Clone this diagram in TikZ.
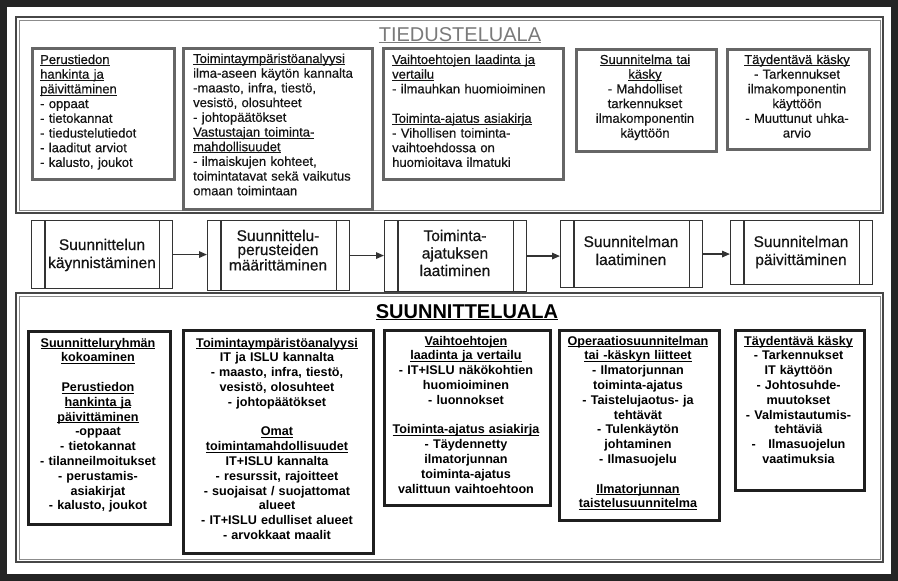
\documentclass[tikz,border=0pt]{standalone}
\usepackage{fontspec}
\setmainfont{Liberation Sans}
\newfontfamily\medfont{Liberation Sans}[FakeBold=0.5]
\usetikzlibrary{arrows.meta}
\newcommand{\ulx}[1]{\underline{\smash{#1}}}
\tikzset{
  outerframe/.style={draw=black!86, line width=7pt},
  frameout/.style={draw=black!72, line width=1.6pt},
  framein/.style={draw=black!45, line width=0.9pt},
  tbox/.style={draw=black!60, line width=2.6pt, inner sep=0pt, anchor=north west},
  bbox/.style={draw=black!88, line width=2.6pt, inner sep=0pt, anchor=north west},
  proc/.style={draw=black!80, line width=1.1pt, inner sep=0pt, anchor=north west},
  procline/.style={draw=black!80, line width=1.1pt},
  arr/.style={draw=black!80, line width=1.5pt, -{Triangle[length=8pt,width=6.5pt]}},
  ttext/.style={font=\medfont\fontsize{13}{14.7}\selectfont, text=black!92, inner sep=0pt},
  btext/.style={font=\bfseries\fontsize{12.6}{14.8}\selectfont, text=black, inner sep=0pt, align=center, anchor=base},
  ptext/.style={text=black!92, inner sep=0pt, align=center, anchor=base, text width=150pt},
  title/.style={font=\fontsize{20}{24}\selectfont, inner sep=0pt, anchor=base}
}
\begin{document}
\begin{tikzpicture}[x=1pt,y=-1pt]
\useasboundingbox (0,0) rectangle (898,581);
\fill[white] (0,0) rectangle (898,581);
\draw[outerframe] (3.5,3) rectangle (894.5,577.5);

% section frames
\draw[frameout] (16,17) rectangle (883,213);
\draw[framein] (19,20) rectangle (880,210);
\draw[frameout] (16,293) rectangle (883,562);
\draw[framein] (19,296) rectangle (880,559);

% titles
\node[title, text=black!52] (t1) at (460,41) {\ulx{TIEDUSTELUALA}};
\node[title, font=\bfseries\fontsize{20}{24}\selectfont] (t2) at (467,318) {\ulx{SUUNNITTELUALA}};

% ---------- top boxes ----------
\node[tbox, minimum width=142pt, minimum height=131pt] (tA) at (31,47) {};
\node[ttext, text width=130pt, align=left, anchor=base west] (tAt) at (40,64)
 {\ulx{Perustiedon}\\ \ulx{hankinta ja}\\ \ulx{päivittäminen}\\ - oppaat\\ - tietokannat\\ - tiedustelutiedot\\ - laaditut arviot\\ - kalusto, joukot};

\node[tbox, minimum width=189pt, minimum height=161pt] (tB) at (182,47) {};
\node[ttext, text width=176pt, align=left, anchor=base west] (tBt) at (193,63)
 {\ulx{Toimintaympäristöanalyysi}\\ ilma-aseen käytön kannalta\\ -maasto, infra, tiestö,\\ vesistö, olosuhteet\\ - johtopäätökset\\ \ulx{Vastustajan toiminta-}\\ \ulx{mahdollisuudet}\\ - ilmaiskujen kohteet,\\ toimintatavat sekä vaikutus\\ omaan toimintaan};

\node[tbox, minimum width=180pt, minimum height=131pt] (tC) at (382,47) {};
\node[ttext, text width=168pt, align=left, anchor=base west] (tCt) at (392,64)
 {\ulx{Vaihtoehtojen laadinta ja}\\ \ulx{vertailu}\\ - ilmauhkan huomioiminen\\ \mbox{}\\ \ulx{Toiminta-ajatus asiakirja}\\ - Vihollisen toiminta-\\ vaihtoehdossa on\\ huomioitava ilmatuki};

\node[tbox, minimum width=140pt, minimum height=102pt] (tD) at (575,48) {};
\node[ttext, text width=136pt, align=center, anchor=base] (tDt) at (645,64)
 {\ulx{Suunnitelma tai}\\ \ulx{käsky}\\ - Mahdolliset\\ tarkennukset\\ ilmakomponentin\\ käyttöön};

\node[tbox, minimum width=142pt, minimum height=100pt] (tE) at (726,48) {};
\node[ttext, text width=138pt, align=center, anchor=base] (tEt) at (797,64)
 {\ulx{Täydentävä käsky}\\ - Tarkennukset\\ ilmakomponentin\\ käyttöön\\ - Muuttunut uhka-\\ arvio};

% ---------- process row ----------
\node[proc, minimum width=141pt, minimum height=68pt] (p1) at (31,220) {};
\node[proc, minimum width=142pt, minimum height=70pt] (p2) at (207,220) {};
\node[proc, minimum width=142pt, minimum height=71pt] (p3) at (384,220) {};
\node[proc, minimum width=142pt, minimum height=67pt] (p4) at (560,220) {};
\node[proc, minimum width=142pt, minimum height=64pt] (p5) at (730,220) {};
\foreach \p in {p1,p2,p3,p4,p5}{
  \draw[procline] ([xshift=14pt]\p.north west) -- ([xshift=14pt]\p.south west);
  \draw[procline] ([xshift=-14pt]\p.north east) -- ([xshift=-14pt]\p.south east);
}
\node[ptext, font=\medfont\fontsize{15.5}{18}\selectfont] (p1t) at (102,250) {Suunnittelun\\ käynnistäminen};
\node[ptext, font=\medfont\fontsize{15.5}{14}\selectfont] (p2t) at (278,241) {Suunnittelu-\\ perusteiden\\ määrittäminen};
\node[ptext, font=\medfont\fontsize{15.5}{17.5}\selectfont] (p3t) at (455,241) {Toiminta-\\ ajatuksen\\ laatiminen};
\node[ptext, font=\medfont\fontsize{15.5}{18}\selectfont] (p4t) at (631,247) {Suunnitelman\\ laatiminen};
\node[ptext, font=\medfont\fontsize{15.5}{18}\selectfont] (p5t) at (801,247) {Suunnitelman\\ päivittäminen};
\draw[arr] (p1.east) -- (p1.east -| p2.west);
\draw[arr] (p2.east) -- (p2.east -| p3.west);
\draw[arr] (p3.east) -- (p3.east -| p4.west);
\draw[arr] (p4.east) -- (p4.east -| p5.west);

% ---------- bottom boxes ----------
\node[bbox, minimum width=142pt, minimum height=193pt] (bF) at (27,330) {};
\node[btext, text width=138pt] (bFt) at (98,347)
 {\ulx{Suunnitteluryhmän}\\ \ulx{kokoaminen}\\ \mbox{}\\ \ulx{Perustiedon}\\ \ulx{hankinta ja}\\ \ulx{päivittäminen}\\ -oppaat\\ - tietokannat\\ - tilanneilmoitukset\\ - perustamis-\\ asiakirjat\\ - kalusto, joukot};

\node[bbox, minimum width=190pt, minimum height=223pt] (bG) at (182,329) {};
\node[btext, text width=186pt] (bGt) at (277,347)
 {\ulx{Toimintaympäristöanalyysi}\\ IT ja ISLU kannalta\\ - maasto, infra, tiestö,\\ vesistö, olosuhteet\\ - johtopäätökset\\ \mbox{}\\ \ulx{Omat}\\ \ulx{toimintamahdollisuudet}\\ IT+ISLU kannalta\\ - resurssit, rajoitteet\\ - suojaisat / suojattomat\\ alueet\\ - IT+ISLU edulliset alueet\\ - arvokkaat maalit};

\node[bbox, minimum width=166pt, minimum height=175pt] (bH) at (383,329) {};
\node[btext, text width=162pt] (bHt) at (466,345)
 {\ulx{Vaihtoehtojen}\\ \ulx{laadinta ja vertailu}\\ - IT+ISLU näkökohtien\\ huomioiminen\\ - luonnokset\\ \mbox{}\\ \ulx{Toiminta-ajatus asiakirja}\\ - Täydennetty\\ ilmatorjunnan\\ toiminta-ajatus\\ valittuun vaihtoehtoon};

\node[bbox, minimum width=160pt, minimum height=190pt] (bI) at (558,329) {};
\node[btext, text width=156pt] (bIt) at (638,345)
 {\ulx{Operaatiosuunnitelman}\\ \ulx{tai -käskyn liitteet}\\ - Ilmatorjunnan\\ toiminta-ajatus\\ - Taistelujaotus- ja\\ tehtävät\\ - Tulenkäytön\\ johtaminen\\ - Ilmasuojelu\\ \mbox{}\\ \ulx{Ilmatorjunnan}\\ \ulx{taistelusuunnitelma}};

\node[bbox, minimum width=129pt, minimum height=160pt] (bJ) at (734,329) {};
\node[btext, text width=125pt] (bJt) at (798.5,345)
 {\ulx{Täydentävä käsky}\\ - Tarkennukset\\ IT käyttöön\\ - Johtosuhde-\\ muutokset\\ - Valmistautumis-\\ tehtäviä\\ -\quad Ilmasuojelun\\ vaatimuksia};
\end{tikzpicture}
\end{document}
